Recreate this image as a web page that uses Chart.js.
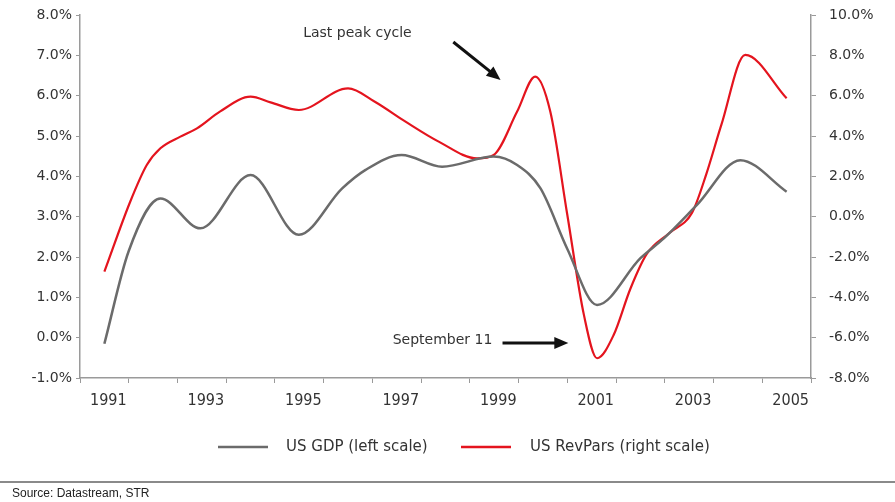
<!DOCTYPE html>
<html>
<head>
<meta charset="utf-8">
<script src="https://cdn.jsdelivr.net/npm/chart.js@4.4.1/dist/chart.umd.min.js"></script>
<style>
  html, body { margin: 0; padding: 0; background: #fff; }
  #wrap { width: 895px; height: 502px; position: relative; }
</style>
</head>
<body>
<div id="wrap"><canvas id="grafico" width="895" height="502"></canvas></div>
<script>
// Dados (ano, valor %)
const gdpYears = [1991.0, 1991.5, 1992.15, 1992.97, 1994.0, 1994.99, 1995.88, 1996.36, 1997.1, 1997.93, 1998.99, 1999.47, 1999.95, 2000.5, 2001.11, 2002.0, 2002.48, 2003.16, 2004.05, 2005.0];
const gdpValues = [-0.15, 2.15, 3.45, 2.71, 4.03, 2.55, 3.70, 4.16, 4.53, 4.24, 4.49, 4.28, 3.70, 2.2, 0.81, 1.97, 2.46, 3.29, 4.40, 3.62];

const revparYears = [1991.0, 1991.53, 1991.87, 1992.15, 1992.56, 1992.9, 1993.37, 1994.0, 1994.41, 1994.99, 1996.0, 1996.55, 1997.18, 1997.86, 1998.65, 1998.99, 1999.47, 1999.84, 2000.15, 2000.5, 2000.84, 2001.11, 2001.45, 2001.79, 2002.13, 2002.6, 2003.06, 2003.35, 2003.66, 2004.15, 2005.0];
const revparValues = [-2.73, 0.74, 2.56, 3.39, 3.97, 4.38, 5.21, 5.95, 5.67, 5.29, 6.36, 5.70, 4.71, 3.72, 2.89, 3.06, 5.21, 6.94, 5.21, 0.08, -4.87, -7.02, -5.87, -3.6, -1.85, -0.8, 0.2, 2.1, 4.55, 8.02, 5.87];

const xTickYears = [1991, 1993, 1995, 1997, 1999, 2001, 2003, 2005];
const seriesLabels = ['US GDP (left scale)', 'US RevPars (right scale)'];
const gdpColor = '#6b6b6b';
const revparColor = '#e4141e';
const textColor = '#333';
const axisColor = '#9a9a9a';

function toPoints(xs, ys) {
    return xs.map((x, i) => ({ x: x, y: ys[i] }));
}

// Desenha seta com ponta cheia
function drawArrow(ctx, x1, y1, x2, y2) {
    const ang = Math.atan2(y2 - y1, x2 - x1);
    const head = 14;
    ctx.save();
    ctx.strokeStyle = '#111';
    ctx.fillStyle = '#111';
    ctx.lineWidth = 3;
    ctx.beginPath();
    ctx.moveTo(x1, y1);
    ctx.lineTo(x2 - Math.cos(ang) * head * 0.8, y2 - Math.sin(ang) * head * 0.8);
    ctx.stroke();
    ctx.beginPath();
    ctx.moveTo(x2, y2);
    ctx.lineTo(x2 - head * Math.cos(ang) + 6 * Math.sin(ang), y2 - head * Math.sin(ang) - 6 * Math.cos(ang));
    ctx.lineTo(x2 - head * Math.cos(ang) - 6 * Math.sin(ang), y2 - head * Math.sin(ang) + 6 * Math.cos(ang));
    ctx.closePath();
    ctx.fill();
    ctx.restore();
}

// Anotações, legenda e fonte
const extrasPlugin = {
    id: 'extras',
    afterDraw(chart) {
        const ctx = chart.ctx;
        const x = chart.scales.x;
        const y = chart.scales.y;

        ctx.save();
        ctx.font = '14px "DejaVu Sans"';
        ctx.fillStyle = textColor;
        ctx.textBaseline = 'middle';
        ctx.textAlign = 'left';
        ctx.fillText('Last peak cycle', x.getPixelForValue(1995.08), y.getPixelForValue(7.55));
        drawArrow(ctx, x.getPixelForValue(1998.16), y.getPixelForValue(7.33), x.getPixelForValue(1999.13), y.getPixelForValue(6.39));

        ctx.textAlign = 'right';
        ctx.fillText('September 11', x.getPixelForValue(1998.96), y.getPixelForValue(-0.06));
        drawArrow(ctx, x.getPixelForValue(1999.17), y.getPixelForValue(-0.13), x.getPixelForValue(2000.52), y.getPixelForValue(-0.13));

        // legenda
        const ly = 447;
        ctx.lineWidth = 2.5;
        ctx.strokeStyle = gdpColor;
        ctx.beginPath(); ctx.moveTo(218, ly); ctx.lineTo(268, ly); ctx.stroke();
        ctx.strokeStyle = revparColor;
        ctx.beginPath(); ctx.moveTo(461, ly); ctx.lineTo(511, ly); ctx.stroke();
        ctx.textAlign = 'left';
        ctx.font = '15px "DejaVu Sans"';
        ctx.fillText(seriesLabels[0], 286, ly);
        ctx.fillText(seriesLabels[1], 530, ly);

        // linha separadora e fonte
        ctx.strokeStyle = '#8a8a8a';
        ctx.lineWidth = 2;
        ctx.beginPath(); ctx.moveTo(0, 482); ctx.lineTo(895, 482); ctx.stroke();
        ctx.font = '12px "Liberation Sans"';
        ctx.fillStyle = '#222';
        ctx.fillText('Source: Datastream, STR', 12, 494);
        ctx.restore();
    }
};

function fixVertical(width) {
    return function(axis) {
        axis.width = width;
        axis.paddingTop = 0;
        axis.paddingBottom = 0;
    };
}

const ctx = document.getElementById('grafico').getContext('2d');
new Chart(ctx, {
    type: 'line',
    data: {
        datasets: [
            {
                label: seriesLabels[0],
                data: toPoints(gdpYears, gdpValues),
                borderColor: gdpColor,
                borderWidth: 2.5,
                pointRadius: 0,
                cubicInterpolationMode: 'monotone',
                yAxisID: 'y'
            },
            {
                label: seriesLabels[1],
                data: toPoints(revparYears, revparValues),
                borderColor: revparColor,
                borderWidth: 2.2,
                pointRadius: 0,
                cubicInterpolationMode: 'monotone',
                yAxisID: 'y1'
            }
        ]
    },
    options: {
        responsive: false,
        animation: false,
        layout: { padding: { top: 15, left: 0, right: 0, bottom: 0 } },
        plugins: {
            legend: { display: false },
            tooltip: { enabled: false }
        },
        scales: {
            x: {
                type: 'linear',
                min: 1990.5,
                max: 2005.5,
                afterBuildTicks: function(axis) {
                    const ticks = [];
                    for (let v = 1990.5; v <= 2005.5; v += 0.5) ticks.push({ value: v });
                    axis.ticks = ticks;
                },
                afterFit: function(axis) { axis.height = 124; },
                border: { display: true, color: axisColor, width: 1.5 },
                grid: {
                    drawOnChartArea: false,
                    tickLength: 5,
                    color: function(c) {
                        return (c.tick && c.tick.value % 1 === 0) ? 'rgba(0,0,0,0)' : axisColor;
                    }
                },
                ticks: {
                    autoSkip: false,
                    maxRotation: 0,
                    padding: 8,
                    labelOffset: 4,
                    color: textColor,
                    font: { family: '"DejaVu Sans Condensed"', size: 16 },
                    callback: function(value) {
                        return xTickYears.includes(value) ? String(value) : '';
                    }
                }
            },
            y: {
                position: 'left',
                min: -1,
                max: 8,
                afterFit: fixVertical(80),
                border: { display: true, color: axisColor, width: 1.5 },
                grid: { drawOnChartArea: false, tickLength: 4, color: axisColor },
                ticks: {
                    stepSize: 1,
                    padding: 4,
                    color: textColor,
                    font: { family: '"DejaVu Sans"', size: 14 },
                    callback: function(value) { return value.toFixed(1) + '%'; }
                }
            },
            y1: {
                position: 'right',
                min: -8,
                max: 10,
                afterFit: fixVertical(84),
                border: { display: true, color: axisColor, width: 1.5 },
                grid: { drawOnChartArea: false, tickLength: 5, color: axisColor },
                ticks: {
                    stepSize: 2,
                    padding: 13,
                    color: textColor,
                    font: { family: '"DejaVu Sans"', size: 14 },
                    callback: function(value) { return value.toFixed(1) + '%'; }
                }
            }
        }
    },
    plugins: [extrasPlugin]
});
</script>
</body>
</html>
